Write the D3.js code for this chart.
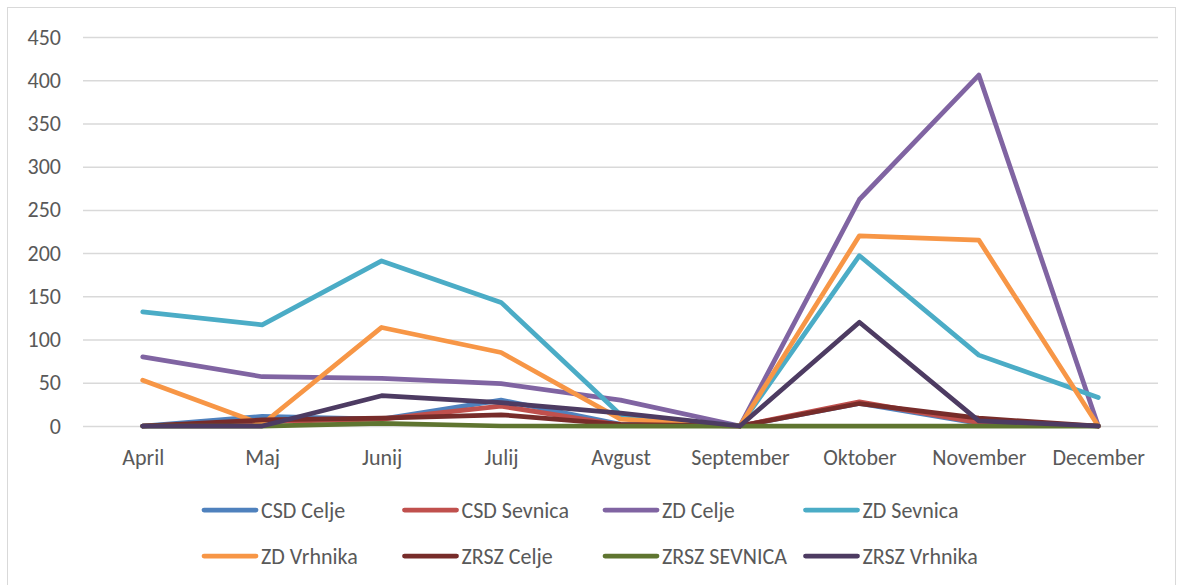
<!DOCTYPE html>
<html>
<head>
<meta charset="utf-8">
<script src="https://cdn.jsdelivr.net/npm/d3@7"></script>
<style>
  body { margin: 0; background: #fff; }
  text { font-family: Calibri, Carlito, Lato, sans-serif; fill: #595959; }
</style>
</head>
<body>
<svg id="chart"></svg>
<script>
const months = ["April", "Maj", "Junij", "Julij", "Avgust", "September", "Oktober", "November", "December"];
const seriesNames = ["CSD Celje", "CSD Sevnica", "ZD Celje", "ZD Sevnica", "ZD Vrhnika", "ZRSZ Celje", "ZRSZ SEVNICA", "ZRSZ Vrhnika"];
const colors = ["#4f81bd", "#c0504d", "#8064a2", "#4bacc6", "#f79646", "#772c2a", "#5f7530", "#4d3b62"];

const csdCelje    = [0, 11, 8, 30, 2, 0, 26, 3, 0];
const csdSevnica  = [0, 5, 8, 23, 1, 0, 28, 4, 0];
const zdCelje     = [80, 57, 55, 49, 30, 0, 262, 406, 0];
const zdSevnica   = [132, 117, 191, 143, 13, 0, 197, 82, 33];
const zdVrhnika   = [53, 2, 114, 85, 8, 0, 220, 215, 0];
const zrszCelje   = [0, 7, 9, 13, 2, 0, 26, 9, 0];
const zrszSevnica = [0, 0, 3, 0, 0, 0, 0, 0, 0];
const zrszVrhnika = [0, 0, 35, 27, 15, 0, 120, 6, 0];

const yTicks = [0, 50, 100, 150, 200, 250, 300, 350, 400, 450];

const allValues = [csdCelje, csdSevnica, zdCelje, zdSevnica, zdVrhnika, zrszCelje, zrszSevnica, zrszVrhnika];
const series = seriesNames.map((name, i) => ({ name: name, color: colors[i], values: allValues[i] }));

const width = 1182, height = 585;
const svg = d3.select("#chart")
    .attr("width", width)
    .attr("height", height);

// chart border
svg.append("rect")
    .attr("x", 7.5).attr("y", 7.5)
    .attr("width", 1168).attr("height", 590)
    .attr("fill", "none")
    .attr("stroke", "#d9d9d9")
    .attr("stroke-width", 1);

const x = d3.scalePoint()
    .domain(months)
    .range([83, 1158])
    .padding(0.5);

const y = d3.scaleLinear()
    .domain([0, 450])
    .range([426, 37]);

// gridlines + y labels
const yAxis = svg.append("g")
    .attr("transform", "translate(83,0)")
    .call(d3.axisLeft(y).tickValues(yTicks).tickSize(-1075).tickPadding(22));
yAxis.select(".domain").remove();
yAxis.selectAll(".tick line").attr("stroke", "#d9d9d9").attr("stroke-width", 1.5);
yAxis.selectAll(".tick text")
    .style("font-size", "22px")
    .attr("fill", "#595959");

// x labels
const xAxis = svg.append("g")
    .attr("transform", "translate(0,426)")
    .call(d3.axisBottom(x).tickSize(0).tickPadding(23));
xAxis.select(".domain").remove();
xAxis.selectAll(".tick text")
    .style("font-size", "22px")
    .attr("fill", "#595959");

const line = d3.line()
    .x((d, i) => x(months[i]))
    .y(d => y(d));

svg.append("g")
    .selectAll("path")
    .data(series)
    .join("path")
    .attr("d", d => line(d.values))
    .attr("fill", "none")
    .attr("stroke", d => d.color)
    .attr("stroke-width", 4.75)
    .attr("stroke-linejoin", "round")
    .attr("stroke-linecap", "round");

// legend, 4 per row
const legend = svg.append("g")
    .selectAll("g")
    .data(series)
    .join("g")
    .attr("transform", (d, i) => `translate(${202 + (i % 4) * 200.5},${510 + Math.floor(i / 4) * 46})`);

legend.append("line")
    .attr("x1", 2).attr("x2", 54)
    .attr("stroke", d => d.color)
    .attr("stroke-width", 4.75)
    .attr("stroke-linecap", "round");

legend.append("text")
    .attr("x", 59)
    .attr("dy", "0.35em")
    .style("font-size", "22px")
    .text(d => d.name);
</script>
</body>
</html>
